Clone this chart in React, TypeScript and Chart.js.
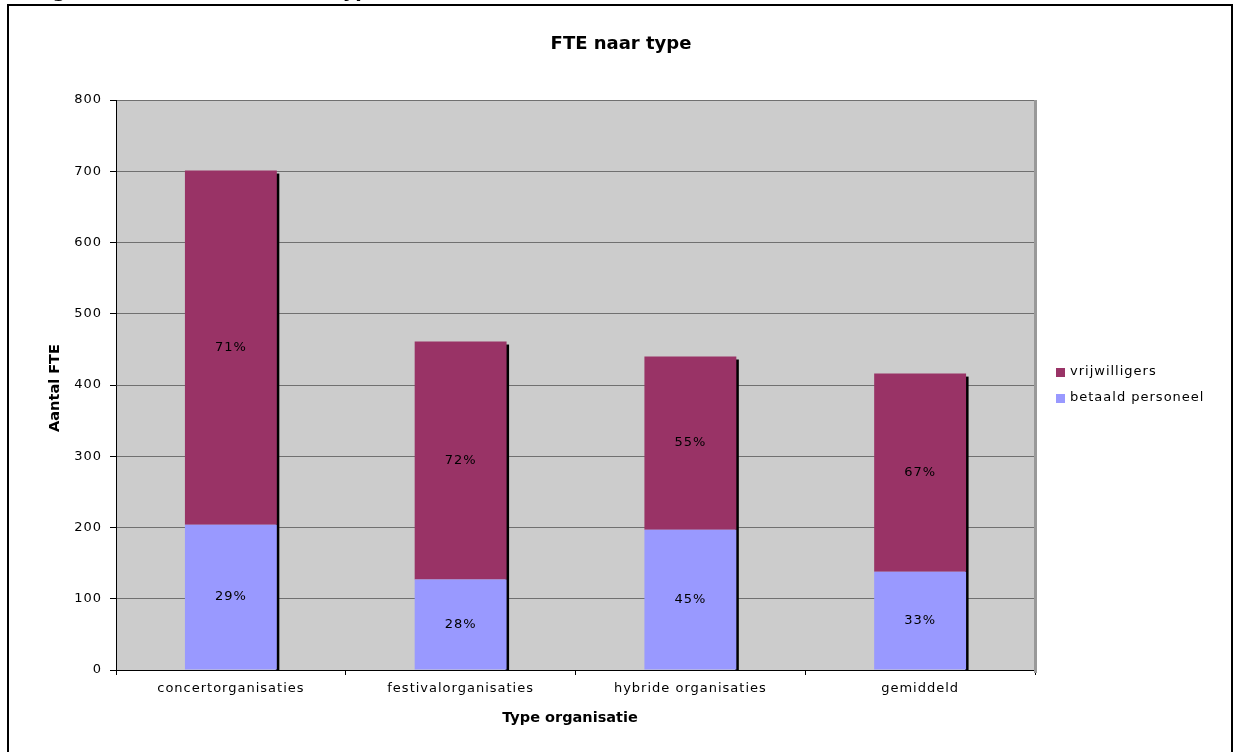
import React, { useEffect, useRef } from "react";
import { Chart, registerables } from "chart.js";

Chart.register(...registerables);

const caption = "Figuur 3.2: Aantal FTE naar type";
const chartTitle = "FTE naar type";
const yAxisTitle = "Aantal FTE";
const xAxisTitle = "Type organisatie";
const categories = ["concertorganisaties", "festivalorganisaties", "hybride organisaties", "gemiddeld"];
const seriesNames = ["betaald personeel", "vrijwilligers"];
const betaaldPersoneel = [204, 127, 197, 138];
const vrijwilligers = [497, 334, 243, 278];
const betaaldPct = ["29%", "28%", "45%", "33%"];
const vrijwilligersPct = ["71%", "72%", "55%", "67%"];
const yMin = 0;
const yMax = 800;
const yStep = 100;

const FONT = "'DejaVu Sans', Verdana, sans-serif";
const PAID = "#9999ff";
const VOL = "#993366";

const decor = {
  id: "decor",
  beforeDraw(chart: any) {
    const { ctx, chartArea: a } = chart;
    ctx.save();
    ctx.fillStyle = "#ffffff";
    ctx.fillRect(0, 0, chart.width, chart.height);
    ctx.strokeStyle = "#000";
    ctx.lineWidth = 2;
    ctx.strokeRect(8, 5, 1224, 800);
    ctx.fillStyle = "#000";
    ctx.font = `bold 19px ${FONT}`;
    ctx.textAlign = "left";
    ctx.textBaseline = "alphabetic";
    ctx.fillText(caption, 33, -3);
    ctx.fillStyle = "#cccccc";
    ctx.fillRect(a.left, a.top, a.right - a.left, a.bottom - a.top);
    ctx.restore();
    (ctx as any).letterSpacing = "1px";
  },
  beforeDatasetsDraw(chart: any) {
    const { ctx } = chart;
    const meta = chart.getDatasetMeta(1);
    const base = chart.scales.y.getPixelForValue(0);
    ctx.save();
    ctx.fillStyle = "#000";
    meta.data.forEach((el: any) => {
      const right = el.x + el.width / 2;
      ctx.fillRect(right - 1, el.y + 3, 3.5, base - el.y - 3);
    });
    ctx.restore();
  },
  afterDatasetsDraw(chart: any) {
    const { ctx } = chart;
    const labels = [betaaldPct, vrijwilligersPct];
    ctx.save();
    (ctx as any).letterSpacing = "1px";
    ctx.fillStyle = "#000";
    ctx.font = `13px ${FONT}`;
    ctx.textAlign = "center";
    ctx.textBaseline = "middle";
    [0, 1].forEach((di) => {
      chart.getDatasetMeta(di).data.forEach((el: any, i: number) => {
        ctx.fillText(labels[di][i], el.x, (el.y + el.base) / 2);
      });
    });
    ctx.restore();
  },
  afterDraw(chart: any) {
    const { ctx, chartArea: a } = chart;
    ctx.save();
    (ctx as any).letterSpacing = "0px";
    ctx.fillStyle = "#999999";
    ctx.fillRect(a.right - 1, a.top, 3, a.bottom - a.top + 3);
    ctx.fillStyle = "#000";
    ctx.textAlign = "center";
    ctx.textBaseline = "middle";
    ctx.font = `bold 18px ${FONT}`;
    ctx.fillText(chartTitle, 621, 44);
    ctx.font = `bold 14.5px ${FONT}`;
    ctx.fillText(xAxisTitle, 570, 718);
    ctx.save();
    ctx.translate(55, 388);
    ctx.rotate(-Math.PI / 2);
    ctx.fillText(yAxisTitle, 0, 0);
    ctx.restore();
    const items = [
      { name: seriesNames[1], color: VOL, y: 372 },
      { name: seriesNames[0], color: PAID, y: 398 },
    ];
    ctx.font = `13px ${FONT}`;
    ctx.textAlign = "left";
    (ctx as any).letterSpacing = "1px";
    items.forEach((it) => {
      ctx.fillStyle = it.color;
      ctx.fillRect(1056, it.y - 4, 9, 9);
      ctx.fillStyle = "#000";
      ctx.fillText(it.name, 1070, it.y);
    });
    ctx.restore();
  },
};

export default function App() {
  const ref = useRef<HTMLCanvasElement | null>(null);
  useEffect(() => {
    if (!ref.current) return;
    const chart = new Chart(ref.current, {
      type: "bar",
      data: {
        labels: categories,
        datasets: [
          { label: seriesNames[0], data: betaaldPersoneel, backgroundColor: PAID, borderWidth: 0 },
          { label: seriesNames[1], data: vrijwilligers, backgroundColor: VOL, borderWidth: 0 },
        ],
      },
      options: {
        responsive: false,
        animation: false,
        devicePixelRatio: 1,
        layout: { padding: { top: 100, right: 199, left: 0, bottom: 0 } },
        datasets: { bar: { categoryPercentage: 0.4, barPercentage: 1 } },
        plugins: { legend: { display: false }, title: { display: false }, tooltip: { enabled: false } },
        scales: {
          x: {
            stacked: true,
            afterFit: (s: any) => { s.height = 82; },
            grid: { drawOnChartArea: false, offset: true, tickColor: "#000", tickLength: 5 },
            border: { color: "#000", width: 1 },
            ticks: { color: "#000", font: { family: FONT, size: 13 }, padding: 6, maxRotation: 0, autoSkip: false },
          },
          y: {
            stacked: true,
            min: yMin,
            max: yMax,
            afterFit: (s: any) => { s.width = 116; },
            grid: { color: "#707070", lineWidth: 1, tickColor: "#000", tickLength: 6 },
            border: { color: "#000", width: 1 },
            ticks: { stepSize: yStep, color: "#000", font: { family: FONT, size: 13 }, padding: 8 },
          },
        },
      },
      plugins: [decor],
    });
    return () => chart.destroy();
  }, []);
  return (
    <div style={{ position: "fixed", left: 0, top: 0, width: 1234, height: 752, background: "#fff" }}>
      <canvas ref={ref} width={1234} height={752} style={{ width: 1234, height: 752, display: "block" }} />
    </div>
  );
}
